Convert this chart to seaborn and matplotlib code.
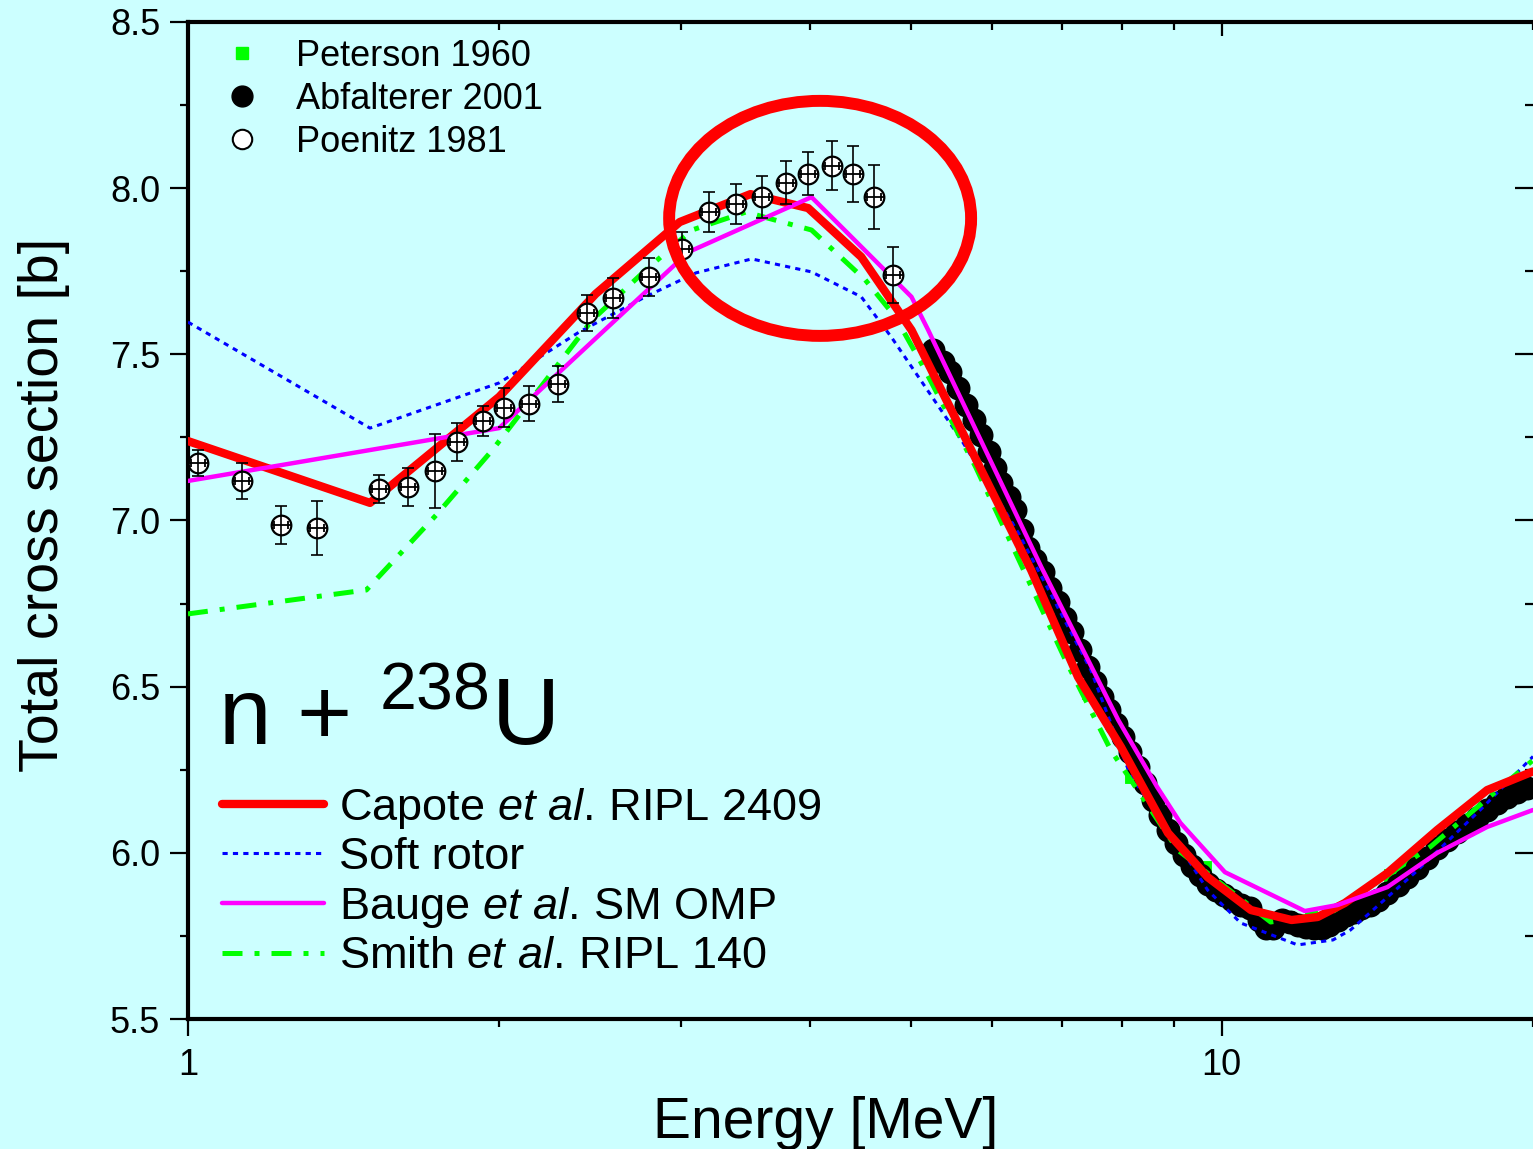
import matplotlib
matplotlib.use("Agg")
import numpy as np
import pandas as pd
import matplotlib.pyplot as plt
import matplotlib.ticker as mticker
from matplotlib.lines import Line2D
from matplotlib.patches import Ellipse
from matplotlib.path import Path
import seaborn as sns

# ---------------- data ----------------
# Poenitz 1981 (open circles)
poe_e = [1.022, 1.127, 1.230, 1.332, 1.532, 1.631, 1.735, 1.822, 1.931, 2.023,
         2.138, 2.280, 2.433, 2.577, 2.792, 3.005, 3.190, 3.388, 3.590, 3.786,
         3.976, 4.195, 4.395, 4.614, 4.813]
poe_s = [7.173, 7.119, 6.986, 6.977, 7.095, 7.101, 7.149, 7.236, 7.299, 7.339,
         7.351, 7.411, 7.624, 7.670, 7.733, 7.817, 7.928, 7.952, 7.973, 8.016,
         8.043, 8.067, 8.043, 7.973, 7.739]
poe_err = [0.040, 0.055, 0.058, 0.082, 0.041, 0.056, 0.110, 0.058, 0.046, 0.059,
           0.053, 0.054, 0.055, 0.060, 0.058, 0.050, 0.061, 0.061, 0.063, 0.065,
           0.065, 0.074, 0.084, 0.097, 0.084]

# Abfalterer 2001 (filled black circles)
abf_e = [5.26, 5.38, 5.46, 5.56, 5.66, 5.76, 5.85, 5.95, 6.03, 6.12, 6.22, 6.31,
         6.41, 6.50, 6.60, 6.72, 6.82, 6.95, 7.06, 7.17, 7.29, 7.42, 7.54, 7.66,
         7.78, 7.90, 8.02, 8.15, 8.30, 8.43, 8.58, 8.71, 8.87, 9.03, 9.19, 9.36,
         9.52, 9.69, 9.87, 10.04, 10.22, 10.43, 10.64, 10.86, 11.03, 11.22, 11.43,
         11.63, 11.84, 12.05, 12.27, 12.49, 12.71, 12.94, 13.18, 13.41, 13.65,
         13.90, 14.15, 14.46, 14.79, 15.12, 15.46, 15.81, 16.16, 16.52, 16.90,
         17.28, 17.67, 18.06, 18.47, 18.88, 19.31, 19.74]
abf_s = [7.513, 7.477, 7.447, 7.399, 7.348, 7.302, 7.257, 7.206, 7.158, 7.113,
         7.071, 7.032, 6.971, 6.917, 6.881, 6.845, 6.797, 6.755, 6.707, 6.664,
         6.610, 6.559, 6.514, 6.469, 6.430, 6.388, 6.349, 6.303, 6.258, 6.210,
         6.159, 6.114, 6.069, 6.030, 5.993, 5.960, 5.933, 5.906, 5.888, 5.873,
         5.858, 5.843, 5.834, 5.798, 5.774, 5.774, 5.798, 5.792, 5.783, 5.777,
         5.774, 5.774, 5.783, 5.798, 5.813, 5.822, 5.834, 5.843, 5.858, 5.879,
         5.903, 5.927, 5.954, 5.984, 6.015, 6.039, 6.063, 6.084, 6.105, 6.129,
         6.150, 6.168, 6.183, 6.195]

# Peterson 1960 (small green squares, mostly hidden under the curves)
pet_e = [7.18, 7.42, 8.17, 8.87, 9.63, 10.59, 11.58, 12.19, 14.53, 15.19]
pet_s = [6.595, 6.481, 6.228, 6.069, 5.957, 5.843, 5.807, 5.807, 5.933, 5.978]

# model curves
capote_e = [1.0, 1.5, 2.0, 2.48, 2.99, 3.5, 3.98, 4.48, 5.01, 6.54, 7.26, 7.99,
            8.87, 9.69, 10.67, 11.68, 12.38, 13.15, 14.46, 16.16, 18.06, 20.0]
capote_s = [7.239, 7.053, 7.372, 7.682, 7.898, 7.982, 7.940, 7.793, 7.573, 6.851,
            6.529, 6.318, 6.060, 5.927, 5.828, 5.798, 5.807, 5.849, 5.939, 6.069,
            6.189, 6.245]

soft_e = [1.0, 1.5, 2.0, 2.39, 2.77, 3.1, 3.51, 4.01, 4.48, 4.79, 5.6, 6.36,
          7.47, 8.17, 8.73, 9.69, 10.43, 11.84, 12.81, 13.32, 15.36, 17.78, 20.0]
soft_s = [7.597, 7.278, 7.414, 7.567, 7.673, 7.745, 7.787, 7.748, 7.673, 7.552,
          7.242, 6.962, 6.550, 6.228, 6.108, 5.888, 5.789, 5.723, 5.738, 5.768,
          5.939, 6.129, 6.290]

bauge_e = [1.0, 2.0, 3.05, 4.01, 5.01, 5.20, 6.69, 7.94, 8.66, 9.12, 10.07,
           12.03, 12.94, 14.46, 16.16, 18.06, 20.0]
bauge_s = [7.119, 7.278, 7.808, 7.973, 7.673, 7.573, 6.860, 6.400, 6.198, 6.090,
           5.942, 5.825, 5.843, 5.897, 6.000, 6.078, 6.129]

smith_e = [1.0, 1.488, 1.739, 1.970, 2.202, 2.46, 2.773, 3.073, 3.464, 4.01,
           4.52, 4.835, 5.12, 5.78, 7.06, 7.81, 9.07, 11.15, 12.74, 15.91, 20.0]
smith_s = [6.719, 6.791, 7.017, 7.212, 7.408, 7.603, 7.754, 7.874, 7.928, 7.874,
           7.724, 7.612, 7.474, 7.161, 6.580, 6.309, 6.008, 5.792, 5.819, 6.018,
           6.279]

# ---------------- styling ----------------
BG = "#CCFFFF"
RED, BLUE, MAG, GREEN = "#FF0000", "#0000FF", "#FF00FF", "#00FF00"

sns.set_theme(style="ticks")
plt.rcParams["font.family"] = ["Liberation Sans", "DejaVu Sans"]
plt.rcParams["mathtext.fontset"] = "custom"
plt.rcParams["mathtext.rm"] = "Liberation Sans"
plt.rcParams["mathtext.it"] = "Liberation Sans:italic"
plt.rcParams["mathtext.bf"] = "Liberation Sans:bold"
for key in ["text.color", "axes.labelcolor", "xtick.color", "ytick.color",
            "xtick.labelcolor", "ytick.labelcolor", "axes.edgecolor"]:
    plt.rcParams[key] = "black"

fig = plt.figure(figsize=(15.33, 11.49), dpi=100, facecolor=BG)
ax = fig.add_axes([0.1226, 0.1131, 0.8774, 0.8678])
ax.set_facecolor(BG)

# ---------------- curves ----------------
smith_ls = (0, (4, 2.4, 1, 2.4))
soft_ls = (0, (1.7, 1.7))

sns.scatterplot(x=pet_e, y=pet_s, marker="s", s=64, color=GREEN, edgecolor=GREEN,
                ax=ax, zorder=1, legend=False)
sns.scatterplot(x=abf_e, y=abf_s, marker="o", s=256, color="black",
                edgecolor="black", ax=ax, zorder=2, legend=False)

sns.lineplot(x=soft_e, y=soft_s, sort=False, estimator=None, ax=ax, color=BLUE,
             lw=2.2, linestyle=soft_ls, zorder=3)
sns.lineplot(x=smith_e, y=smith_s, sort=False, estimator=None, ax=ax, color=GREEN,
             lw=3.6, linestyle=smith_ls, zorder=3)
sns.lineplot(x=capote_e, y=capote_s, sort=False, estimator=None, ax=ax, color=RED,
             lw=6, zorder=4)
sns.lineplot(x=bauge_e, y=bauge_s, sort=False, estimator=None, ax=ax, color=MAG,
             lw=3.2, zorder=4)

# Poenitz: white circles with error bars crossing them
sns.scatterplot(x=poe_e, y=poe_s, marker="o", s=200, color="white",
                edgecolor="black", linewidth=1.6, ax=ax, zorder=6, legend=False)
ax.errorbar(poe_e, poe_s, yerr=poe_err, fmt="none", ecolor="black",
            elinewidth=1.2, capsize=4, capthick=1.2, zorder=7)
hbar = Path([(-1, 0), (1, 0), (-0.7, -0.45), (-0.7, 0.45), (0.7, -0.45), (0.7, 0.45)],
            [Path.MOVETO, Path.LINETO, Path.MOVETO, Path.LINETO, Path.MOVETO, Path.LINETO])
ax.plot(poe_e, poe_s, ls="none", marker=hbar, ms=14, mfc="none", mec="black",
        mew=1.3, zorder=7)

# red ellipse highlighting the peak
ax.add_patch(Ellipse((0.470, 0.803), 0.2245, 0.2357, transform=ax.transAxes,
                     fill=False, ec=RED, lw=8.6, zorder=8))

# ---------------- axes ----------------
ax.set_xscale("log")
ax.set_xlim(1, 20)
ax.set_ylim(5.5, 8.5)
ax.xaxis.set_major_locator(mticker.FixedLocator([1, 10]))
ax.xaxis.set_major_formatter(mticker.FixedFormatter(["1", "10"]))
ax.xaxis.set_minor_locator(mticker.LogLocator(base=10, subs=np.arange(2, 10)))
ax.xaxis.set_minor_formatter(mticker.NullFormatter())
ax.yaxis.set_major_locator(mticker.MultipleLocator(0.5))
ax.yaxis.set_minor_locator(mticker.MultipleLocator(0.25))
ax.yaxis.set_major_formatter(mticker.FormatStrFormatter("%.1f"))

for side in ["left", "bottom", "top"]:
    ax.spines[side].set_linewidth(3)
    ax.spines[side].set_color("black")
ax.spines["right"].set_visible(False)

ax.tick_params(axis="y", which="major", direction="out", length=13, width=1.6,
               labelsize=26, pad=7, colors="black")
ax.tick_params(axis="y", which="minor", direction="out", length=6, width=1.6)
ax.tick_params(axis="x", which="major", direction="out", length=12, width=1.6,
               labelsize=26, pad=9, colors="black")
ax.tick_params(axis="x", which="minor", direction="out", length=6, width=1.6)

top = ax.secondary_xaxis("top")
top.xaxis.set_major_locator(mticker.FixedLocator([1, 10]))
top.xaxis.set_minor_locator(mticker.LogLocator(base=10, subs=np.arange(2, 10)))
top.tick_params(which="both", direction="in", labeltop=False, width=1.6)
top.tick_params(which="major", length=10)
top.tick_params(which="minor", length=6)
top.spines["top"].set_visible(False)

right = ax.secondary_yaxis("right")
right.yaxis.set_major_locator(mticker.MultipleLocator(0.5))
right.yaxis.set_minor_locator(mticker.MultipleLocator(0.25))
right.tick_params(which="both", direction="in", labelright=False, width=1.6)
right.tick_params(which="major", length=13)
right.tick_params(which="minor", length=6)
right.spines["right"].set_visible(False)

ax.set_xlabel("Energy [MeV]", fontsize=41, color="black")
ax.set_ylabel("Total cross section [b]", fontsize=40, color="black")
ax.xaxis.set_label_coords(0.4745, -0.077)
ax.yaxis.set_label_coords(-0.088, 0.5155)

# big reaction label
ax.text(0.022, 0.275, r"n + $^{238}$U", transform=ax.transAxes, fontsize=68,
        va="baseline", ha="left", color="black")

# ---------------- legends ----------------
h_data = [
    Line2D([], [], ls="none", marker="s", ms=8, mfc=GREEN, mec=GREEN),
    Line2D([], [], ls="none", marker="o", ms=15, mfc="black", mec="black"),
    Line2D([], [], ls="none", marker="o", ms=14, mfc="white", mec="black", mew=1.5),
]
leg1 = ax.legend(h_data, ["Peterson 1960", "Abfalterer 2001", "Poenitz 1981"],
                 loc="upper left", bbox_to_anchor=(0.027, 0.983), frameon=False,
                 fontsize=26, handlelength=1.0, handletextpad=1.0,
                 labelspacing=0.22, borderpad=0, borderaxespad=0)
ax.add_artist(leg1)

h_models = [
    Line2D([], [], color=RED, lw=6),
    Line2D([], [], color=BLUE, lw=2.2, ls=soft_ls),
    Line2D([], [], color=MAG, lw=3.2),
    Line2D([], [], color=GREEN, lw=3.6, ls=smith_ls),
]
labels_models = [r"Capote $\mathit{et\ al.}\,$RIPL 2409", "Soft rotor",
                 r"Bauge $\mathit{et\ al.}\,$SM OMP", r"Smith $\mathit{et\ al.}\,$RIPL 140"]
ax.legend(h_models, labels_models, loc="upper left", bbox_to_anchor=(0.025, 0.234),
          frameon=False, fontsize=32.5, handlelength=2.28, handletextpad=0.33,
          labelspacing=0.145, borderpad=0, borderaxespad=0)

fig.savefig("out.png", dpi=100, facecolor=BG)
